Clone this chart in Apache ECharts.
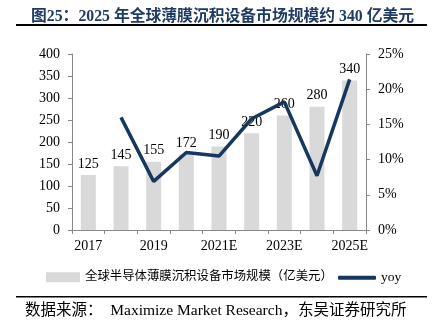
<!DOCTYPE html>
<html><head><meta charset="utf-8">
<script src="https://cdn.jsdelivr.net/npm/echarts@6/dist/echarts.min.js"></script>
<style>html,body{margin:0;padding:0;background:#fff}#c{width:435px;height:329px}</style>
</head><body><div id="c"></div>
<script>
var categories = ['2017','2018','2019','2020E','2021E','2022E','2023E','2024E','2025E'];
var marketSize = [125,145,155,172,190,220,260,280,340];
var yoy = [null,0.16,0.069,0.11,0.105,0.158,0.182,0.077,0.214];
var leftTicks = {min:0,max:400,interval:50};
var rightTicks = {min:0,max:0.25,interval:0.05};
var serif = '"Liberation Serif","Times New Roman","Noto Sans CJK SC",serif';
var chart = echarts.init(document.getElementById('c'));
chart.setOption({
  animation:false,
  backgroundColor:'#fff',
  title:{text:'图25：2025 年全球薄膜沉积设备市场规模约 340 亿美元',left:26,top:4,
    textStyle:{fontFamily:serif,fontSize:15.8,fontWeight:'bold',color:'#1F3B63'}},
  grid:{left:72,right:69,top:54,bottom:99},
  legend:[
    {left:41,top:266,itemWidth:34,itemHeight:10,
      textStyle:{fontFamily:serif,fontSize:12.4,color:'#000'},
      data:[{name:'全球半导体薄膜沉积设备市场规模（亿美元）',icon:'rect'}]},
    {left:333,top:266,itemWidth:38,itemHeight:4,
      textStyle:{fontFamily:serif,fontSize:13.5,color:'#000'},
      data:[{name:'yoy',icon:'roundRect'}]}
  ],
  xAxis:{type:'category',data:categories,
    axisLine:{lineStyle:{color:'#888'}},
    axisTick:{show:true,interval:0,length:4,lineStyle:{color:'#888'}},
    axisLabel:{interval:1,margin:9,fontFamily:serif,fontSize:14,color:'#000'}},
  yAxis:[
    {type:'value',min:leftTicks.min,max:leftTicks.max,interval:leftTicks.interval,splitLine:{show:false},
      axisLine:{show:true,lineStyle:{color:'#888'}},axisTick:{show:true,length:4,lineStyle:{color:'#888'}},
      axisLabel:{margin:12,fontFamily:serif,fontSize:14,color:'#000'}},
    {type:'value',min:rightTicks.min,max:rightTicks.max,interval:rightTicks.interval,splitLine:{show:false},
      axisLine:{show:true,lineStyle:{color:'#888'}},axisTick:{show:true,length:4,lineStyle:{color:'#888'}},
      axisLabel:{margin:12,fontFamily:serif,fontSize:14,color:'#000',formatter:function(v){return Math.round(v*100)+'%';}}}
  ],
  series:[
    {name:'全球半导体薄膜沉积设备市场规模（亿美元）',type:'bar',data:marketSize,barWidth:15,
      itemStyle:{color:'#D9D9D9'},
      label:{show:true,position:'top',distance:4,fontFamily:serif,fontSize:14,color:'#000'}},
    {name:'yoy',type:'line',yAxisIndex:1,data:yoy,symbol:'none',connectNulls:false,
      lineStyle:{color:'#17375E',width:3.5},itemStyle:{color:'#17375E'}}
  ],
  graphic:[
    {type:'rect',shape:{x:16,y:24,width:411,height:2},style:{fill:'#000'}},
    {type:'rect',shape:{x:16,y:296,width:411,height:1.5},style:{fill:'#000'}},
    {type:'text',left:25,top:303,style:{text:'数据来源：  Maximize Market Research，东吴证券研究所',
      font:'15.5px '+serif,fill:'#000'}}
  ]
});
</script></body></html>
